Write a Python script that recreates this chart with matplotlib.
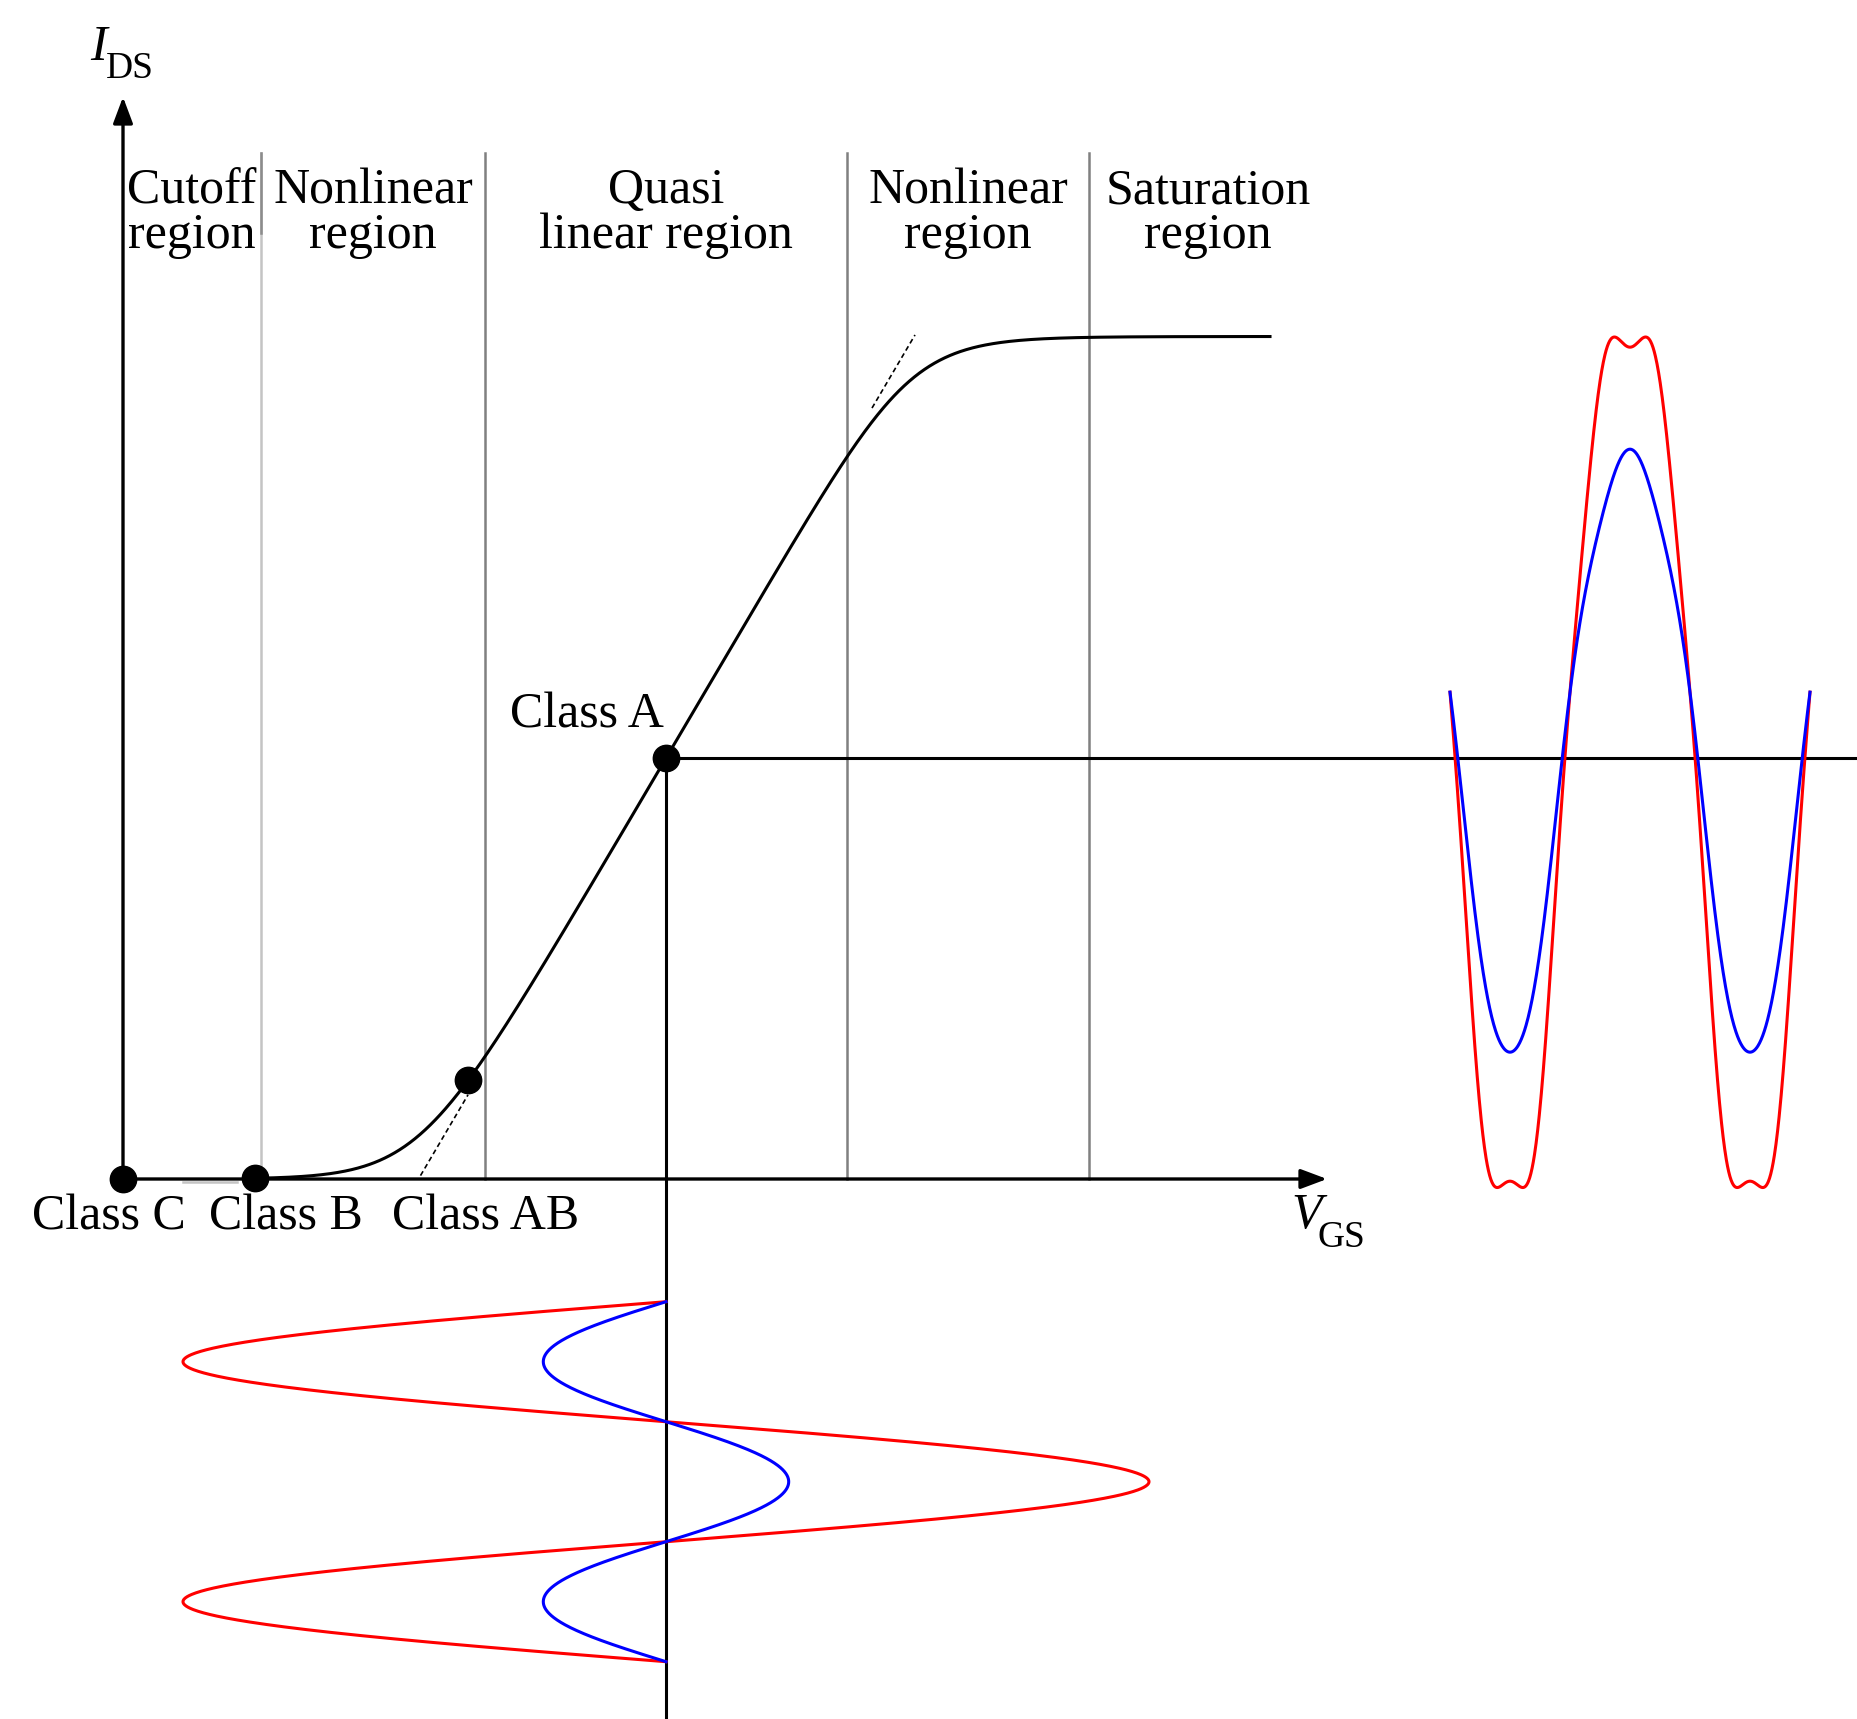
import numpy as np
import matplotlib.pyplot as plt
from numpy.polynomial import polynomial as P

plt.rcParams['font.family'] = ['Liberation Serif', 'DejaVu Serif']

# units are pixels of the original drawing, origin at the corner of the axes
region_edges = [0, 138, 362, 724, 966, 1204]
region_top = ["Cutoff", "Nonlinear", "Quasi", "Nonlinear", "Saturation"]
region_bottom = ["region", "region", "linear region", "region", "region"]

class_names = ["Class C", "Class B", "Class AB", "Class A"]
class_vgs = [0, 132, 345, 543]
class_label_x = [-14, 163, 363, 464]
class_label_y = [-51, -51, -51, 452]

# transfer characteristic I_DS(V_GS)
v_lin0 = 295.5      # linear part extended down to the axis
gm = 1.70           # slope of the quasi linear part
knee_low = 36.7
knee_sharp = 14
i_sat = 842.5
vgs_end = 1147
tangent_spans = [(297.5, 345), (749, 792)]

# drive signals
period = 240
in_start = -122.7
in_amp_blue = 122.7
in_amp_red = 483
out_start = 1327
out_offset = 66
out_blue = [0, 301.5, 7.5]                     # powers of s
out_red = [0, 470, -6, 227.5, 0, -280.5]


def transfer(v):
    v = np.asarray(v, dtype=float)
    low = gm * knee_low * np.logaddexp(0, (v - v_lin0) / knee_low)
    return low / (1 + (low / i_sat) ** knee_sharp) ** (1 / knee_sharp)


def output_wave(coefs, s):
    return out_offset * (1 - s ** 2) ** 2 + P.polyval(s, coefs)


fig = plt.figure(figsize=(18.58, 17.19), dpi=100)
ax = fig.add_axes([0, 0, 1, 1])
ax.set_xlim(-123, 1735)
ax.set_ylim(-540, 1179)
ax.axis('off')

# region separators
top = 1026
ax.plot([region_edges[1]] * 2, [0, top], color='#c4c4c4', lw=1.8)
ax.plot([region_edges[1]] * 2, [946, top], color='#8c8c8c', lw=1.8)
for x in region_edges[2:-1]:
    ax.plot([x, x], [0, top], color='#808080', lw=1.8)
ax.plot([60, 114], [-3, -3], color='#c4c4c4', lw=1.8)

for i in range(len(region_top)):
    cx = (region_edges[i] + region_edges[i + 1]) / 2
    ax.text(cx, 976, region_top[i], ha='center', va='baseline', fontsize=36)
    ax.text(cx, 931, region_bottom[i], ha='center', va='baseline', fontsize=36)

# axes with arrows
arrow = dict(arrowstyle='-|>,head_length=0.8,head_width=0.3', color='k',
             lw=2.4, shrinkA=0, shrinkB=0, mutation_scale=20)
ax.annotate('', xy=(0, 1082), xytext=(0, 0), arrowprops=arrow)
ax.annotate('', xy=(region_edges[-1], 0), xytext=(0, 0), arrowprops=arrow)
ax.text(-33, 1119, 'I', style='italic', fontsize=36, va='baseline')
ax.text(-17, 1101, 'DS', fontsize=27, va='baseline')
ax.text(1168, -49, 'V', style='italic', fontsize=36, va='baseline')
ax.text(1195, -68, 'GS', fontsize=27, va='baseline')

# transfer curve and tangents
v = np.linspace(class_vgs[1], vgs_end, 800)
ax.plot(v, transfer(v), color='k', lw=2.2)
for v0, v1 in tangent_spans:
    vv = np.array([v0, v1])
    ax.plot(vv, gm * (vv - v_lin0), color='k', lw=1.2, ls=(0, (3, 2)))

# bias point of class A
i_q = transfer(class_vgs[3])
ax.plot([class_vgs[3], 1735], [i_q, i_q], color='k', lw=2.2)
ax.plot([class_vgs[3], class_vgs[3]], [i_q, -540], color='k', lw=2.2)

ax.plot(class_vgs, transfer(class_vgs), 'o', color='k', ms=19, zorder=5)
for name, x, y in zip(class_names, class_label_x, class_label_y):
    ax.text(x, y, name, ha='center', va='baseline', fontsize=36)

# input signals (time runs downwards)
t = np.linspace(0, 3 * np.pi, 900)
y_in = in_start - period * t / (2 * np.pi)
ax.plot(class_vgs[3] - in_amp_red * np.sin(t), y_in, color='#ff0000', lw=2.2)
ax.plot(class_vgs[3] - in_amp_blue * np.sin(t), y_in, color='#0000ff', lw=2.2)

# output signals (time runs to the right)
s = -np.sin(t)
x_out = out_start + period * t / (2 * np.pi)
ax.plot(x_out, i_q + output_wave(out_red, s), color='#ff0000', lw=2.2)
ax.plot(x_out, i_q + output_wave(out_blue, s), color='#0000ff', lw=2.2)

fig.savefig('out.png', dpi=100)
